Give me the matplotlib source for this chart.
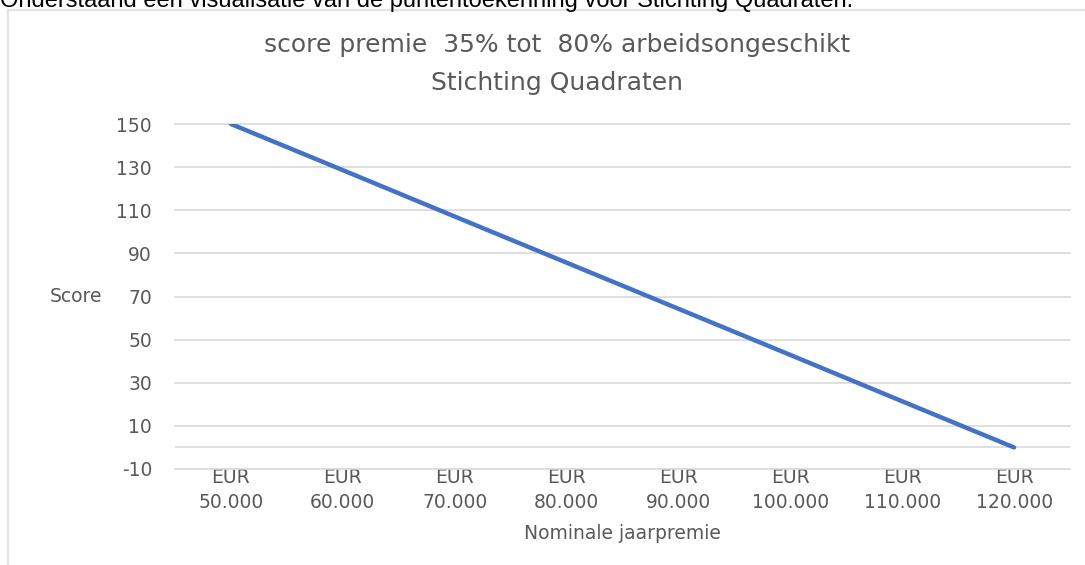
import matplotlib.pyplot as plt
from matplotlib.lines import Line2D

premies = ["EUR\n50.000", "EUR\n60.000", "EUR\n70.000", "EUR\n80.000",
           "EUR\n90.000", "EUR\n100.000", "EUR\n110.000", "EUR\n120.000"]
scores = [150, 128.6, 107.1, 85.7, 64.3, 42.9, 21.4, 0]
y_ticks = [-10, 10, 30, 50, 70, 90, 110, 130, 150]

TEXT = "#595959"
GRID = "#d9d9d9"
BLUE = "#4472c4"
FONT = "DejaVu Sans"
W, H = 1085, 565

plt.rcParams["axes.unicode_minus"] = False

fig = plt.figure(figsize=(W / 100, H / 100), dpi=100)
fig.patch.set_facecolor("white")

# page caption, cut off at the top of the screenshot
fig.text(0, 1 - 7 / H, "Onderstaand een visualisatie van de puntentoekenning voor Stichting Quadraten.",
         fontsize=17, family="Liberation Sans", color="black", va="baseline", ha="left")

# frame of the embedded chart
fig.add_artist(Line2D([7.5 / W, 7.5 / W], [0, 1 - 10 / H], transform=fig.transFigure, color="#e3e3e3", lw=1.6))
fig.add_artist(Line2D([7.5 / W, 1], [1 - 10 / H, 1 - 10 / H], transform=fig.transFigure, color="#e3e3e3", lw=1.6))

ax = fig.add_axes([175 / W, 1 - 469 / H, (1070 - 175) / W, (469 - 124) / H])
x = list(range(len(premies)))
ax.plot(x, scores, color=BLUE, lw=3.2, solid_capstyle="round", zorder=3)

ax.set_xlim(-0.5, len(premies) - 0.5)
ax.set_ylim(-10, 150)
ax.set_yticks(y_ticks)
ax.set_xticks(x)
ax.set_xticklabels(premies, linespacing=1.4)
ax.axhline(0, color=GRID, lw=1.2, zorder=1)
ax.grid(axis="y", color=GRID, lw=1.2)
for gl in ax.get_ygridlines():
    gl.set_clip_on(False)
ax.set_axisbelow(True)
for s in ax.spines.values():
    s.set_visible(False)
ax.tick_params(length=0, colors=TEXT, labelsize=13.5)
ax.tick_params(axis="y", pad=16.5)
ax.tick_params(axis="x", pad=-1)
for lab in ax.get_xticklabels() + ax.get_yticklabels():
    lab.set_family(FONT)

ax.set_xlabel("Nominale jaarpremie", color=TEXT, fontsize=13.5, family=FONT, labelpad=9)
ax.set_ylabel("Score", color=TEXT, fontsize=13.5, family=FONT, rotation=0, labelpad=0)
ax.yaxis.set_label_coords(-0.081, 0.5)
ax.yaxis.label.set_va("center")
ax.yaxis.label.set_ha("right")

fig.text(557 / W, 1 - 45 / H, "score premie  35% tot  80% arbeidsongeschikt",
         ha="center", va="center", fontsize=18, family=FONT, color=TEXT)
fig.text(557 / W, 1 - 83 / H, "Stichting Quadraten",
         ha="center", va="center", fontsize=18, family=FONT, color=TEXT)

fig.savefig("out.png", dpi=100)
